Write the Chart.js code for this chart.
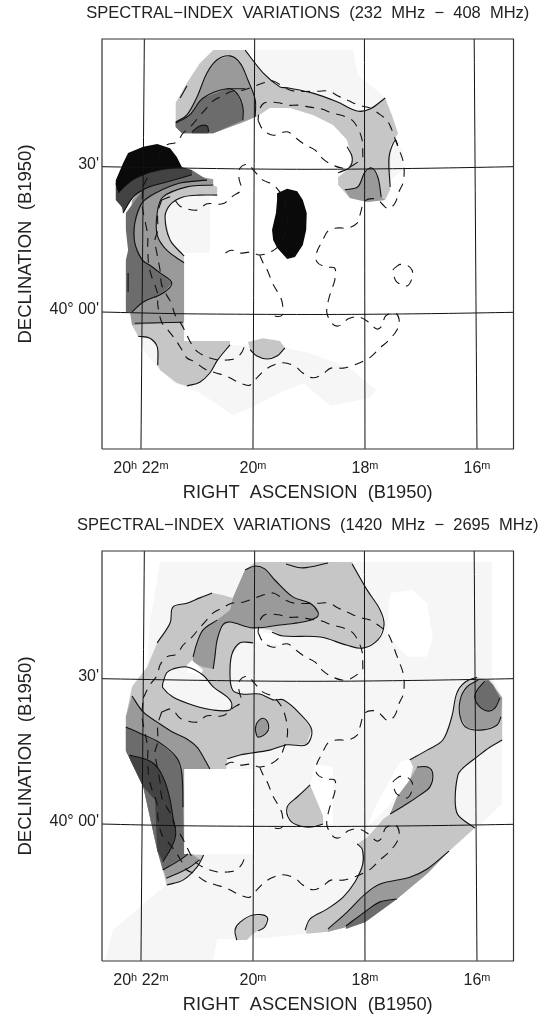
<!DOCTYPE html>
<html>
<head>
<meta charset="utf-8">
<title>Spectral-index variations</title>
<script src="https://cdn.jsdelivr.net/npm/chart.js@4/dist/chart.umd.js"></script>
<style>
  html, body { margin: 0; padding: 0; background: #fff; }
  canvas { position: absolute; left: 0; }
  #top-map { top: 0; }
  #bottom-map { top: 512px; }
</style>
</head>
<body>
<canvas id="top-map" width="541" height="505"></canvas>
<canvas id="bottom-map" width="541" height="505"></canvas>
<script>
// all arrays are flat [RA minutes past 20h, Dec arcmin from 40 deg, ...]
const raTicks = [22, 20, 18, 16];
const raTickLabels = ["20ʰ 22ᵐ", "20ᵐ", "18ᵐ", "16ᵐ"];
const decTicks = [0, 30];
const decTickLabels = ["40° 00'", "30'"];

const topTitle = "SPECTRAL−INDEX  VARIATIONS  (232  MHz  −  408  MHz)";
const bottomTitle = "SPECTRAL−INDEX  VARIATIONS  (1420  MHz  −  2695  MHz)";

// projected coordinate grid
const gridRa = [
  [21.94,56.9, 22,-27.9],
  [19.97,56.9, 20,-27.9],
  [18.01,56.9, 18,-27.9],
  [16.05,56.9, 16,-27.9]
];
const gridDec = [
  [22.70,30.48, 21.30,30.2, 20,30, 18.98,29.94, 18,30, 16.66,30.2, 15.35,30.48],
  [22.70,0.41, 21.30,0.06, 20,-0.06, 18.98,-0.1, 18,-0.06, 16.66,0.1, 15.35,0.35]
];

// dashed total-intensity contours, same in both maps
const dashOuter = [21.96,26.5, 21.84,29.2, 21.71,31.2, 21.66,33.3, 21.54,35.0, 21.36,35.6, 21.25,37.4, 21.09,39.1, 20.98,40.6, 20.86,42.2, 20.71,44.1, 20.55,45.1, 20.38,46.1, 20.18,46.3, 19.96,47.2, 19.82,47.8, 19.64,48.2, 19.43,46.8, 19.25,46.1, 18.84,46.1, 18.64,46.1, 18.48,45.1, 18.29,44.1, 18.11,43.2, 17.91,42.6, 17.77,41.6, 17.61,40.1, 17.52,38.1, 17.45,35.8, 17.38,33.7, 17.32,31.7, 17.30,29.6, 17.32,27.1, 17.39,25.4, 17.46,23.0, 17.55,21.9, 17.61,21.9, 17.68,22.6, 17.80,23.8, 18.00,23.4, 18.09,20.5, 18.14,18.8, 18.30,17.8, 18.50,17.8, 18.66,17.2, 18.77,14.9, 18.86,12.8, 18.86,10.8, 18.70,9.7, 18.54,9.5, 18.54,7.0, 18.61,4.6, 18.66,2.5, 18.68,0.2, 18.59,-1.9, 18.50,-2.5, 18.41,-2.1, 18.30,-1, 18.11,-0.6, 17.93,-1.7, 17.79,-3.1, 17.70,-2.5, 17.63,-0.4, 17.46,0.2, 17.39,-1.2, 17.43,-3.3, 17.59,-5.6, 17.73,-7, 17.88,-8.7, 18.02,-9.7, 18.21,-10.6, 18.39,-11.2, 18.61,-11.2, 18.75,-12.4, 18.93,-13.2, 19.11,-12.2, 19.25,-10.8, 19.46,-10.1, 19.64,-10.6, 19.79,-11.6, 19.93,-13.2, 20.05,-14.7, 20.13,-14.7, 20.30,-13.9, 20.48,-12.8, 20.66,-12.2, 20.86,-11.4, 21.04,-9.9, 21.18,-9.1, 21.29,-7, 21.38,-5.4, 21.52,-3.3, 21.63,-1.7, 21.70,1.9, 21.70,3.9, 21.75,6, 21.80,7.4, 21.86,10.1, 21.88,13.7, 21.88,16.3, 21.93,19.4, 21.98,22.6, 21.96,26.5];
const dashInner = [21.63,23.6, 21.45,24.2, 21.30,22.3, 21.00,21.5, 20.82,22.8, 20.54,22.8, 20.36,24.4, 20.21,25.7, 20.25,28.1, 20.23,30.2, 20.09,31.0, 19.98,29.6, 19.82,27.7, 19.66,26.9, 19.55,25.7, 19.46,24.0, 19.39,20.9, 19.39,18.4, 19.45,16.1, 19.52,14.3, 19.66,13.0, 19.88,12.2, 20.04,12.8, 20.23,12.6, 20.39,13.2, 20.55,12.2];
const dashBranch = [19.88,12.2, 19.82,10.6, 19.73,8.7, 19.66,6.6, 19.55,4.3, 19.48,2.5, 19.48,-0.2, 19.61,-0.4, 19.70,0.4];
const dashLeft = [21.63,23.6, 21.70,20.9, 21.70,17.4, 21.75,15.3, 21.71,12.2, 21.66,9.1, 21.63,6, 21.54,3.9, 21.46,2.3, 21.39,-0.2, 21.27,-2.3, 21.09,-6.4, 20.98,-7.9, 20.82,-8.9, 20.63,-9.5, 20.45,-9.5, 20.34,-9.3, 20.21,-8.1, 20.13,-6];
const dashRing = [19.91,40.1, 19.82,38.1, 19.64,37, 19.39,37.7, 19.21,36.2, 19.07,35, 18.89,33.9, 18.75,32.1, 18.61,31, 18.41,30.2, 18.27,30.4, 18.05,32.3, 18.04,33.5, 18.05,36, 18.13,38.5, 18.23,40.1, 18.39,41, 18.59,41.6, 18.77,42.4, 18.98,42.8, 19.18,43.2, 19.38,43.2, 19.55,43.7, 19.79,43.7, 19.88,42.4, 19.91,40.1];
const dashCircle = [17.38,10.3, 17.50,9.1, 17.48,7.7, 17.43,6.6, 17.25,5.8, 17.16,7.4, 17.16,9.1, 17.25,10.1, 17.38,10.3];

// 232-408 MHz grey levels
const topFaintUpper = [19.98,54.6, 18.21,54.6, 18.13,49.4, 17.88,47.2, 17.64,44.7, 17.55,36.0, 17.32,33.9, 17.32,29.8, 17.55,27.7, 17.64,33.9, 18.09,42.2, 19.16,45.9, 19.98,48.4];
const topFaintLower = [22.05,-2.3, 21.96,-7.4, 21.71,-11, 21.43,-14.1, 20.95,-16.3, 20.36,-20.9, 20,-19.2, 19.52,-16.3, 19.11,-14.3, 18.62,-19, 17.91,-17.4, 17.80,-15.7, 18.27,-11.2, 18.98,-8.1, 19.43,-7, 20.41,-6.4, 21.84,-5];
const topFaintInner = [21.45,24.6, 20.77,24.6, 20.77,12.6, 21.23,12.6, 21.45,14.3, 21.66,19.4];
const topLightUpper = [21.38,43.7, 21.18,47.8, 20.95,51.9, 20.71,54.6, 20.14,54.6, 19.82,49.9, 19.52,47.0, 19.39,46.8, 18.93,45.7, 18.50,43.9, 18.14,42.0, 17.91,42.4, 17.64,44.7, 17.52,41.2, 17.41,37.4, 17.55,34.6, 17.55,25.7, 17.64,23.6, 17.96,23.2, 18.27,24.0, 18.48,26.7, 18.48,28.3, 18.32,29.8, 18.23,31.9, 18.32,36.0, 18.57,39.1, 18.93,41.2, 19.34,42.6, 19.70,42.6, 19.93,40.8, 20.18,39.7, 20.71,37.4, 21.27,37.4, 21.38,38.7];
const topMidUpper = [21.38,39.7, 21.18,41.2, 21.00,44.9, 20.82,49.9, 20.64,52.6, 20.41,53.4, 20.23,51.9, 20.09,48.4, 19.96,44.3, 19.96,40.8, 20.18,39.7, 20.71,37.4, 21.27,37.4, 21.38,38.7];
const topDarkUpper = [21.38,39.5, 21.13,41.2, 20.89,44.7, 20.46,46.6, 20.29,45.7, 20.18,42.8, 20.18,40.1, 20.71,37.4, 21.27,37.4, 21.38,38.7];
const topDarkerUpper = [21.09,37.4, 21.09,37.7, 20.95,38.9, 20.82,38.9, 20.79,37.7, 20.80,37.4];
const topHump = [18.36,25.7, 18.13,26.3, 18.00,29.4, 17.88,30.2, 17.77,28.3, 17.71,24.2, 17.64,23.6, 17.96,23.2, 18.27,24.0];
const topLightLobe = [20.09,-5.8, 19.82,-5, 19.52,-5.6, 19.43,-7, 19.57,-8.7, 19.70,-9.1, 19.75,-9.3, 19.93,-8.7, 20.05,-7.4];
const topLightBand = [20.71,26.7, 20.64,26.3, 20.64,24.6, 20.95,24.6, 21.25,24.2, 21.48,22.6, 21.57,20.1, 21.48,15.3, 21.23,12.0, 21.23,10.6, 21.54,13.2, 21.71,16.3, 21.71,20.9, 21.61,24.2, 21.18,26.3];
const topLightLower = [22.16,-2.3, 21.23,-1.7, 21.23,-5.6, 20.41,-5.6, 20.41,-6.4, 20.63,-9.5, 20.77,-12.2, 20.95,-14.1, 21.18,-14.9, 21.36,-14.3, 21.66,-11.6, 21.70,-10.6, 21.71,-6.8, 21.84,-5, 22.05,-4.6];
const topMidLeft = [21.09,29.4, 20.89,28.3, 20.71,27.9, 20.71,26.7, 21.18,26.3, 21.61,24.2, 21.71,20.9, 21.71,16.3, 21.54,13.2, 21.23,10.6, 21.23,-1.7, 22.16,-2.3, 22.23,2.9, 22.23,13.2, 22.16,23.6, 21.84,27.7];
const topDarkLeft = [21.09,29.8, 20.89,28.3, 20.82,27.7, 21.30,27.1, 21.71,25.2, 21.98,23.0, 22.11,18.8, 22.11,14.7, 21.98,11.2, 21.84,10.1, 21.66,8.5, 21.45,6.4, 21.61,4.3, 21.96,2.5, 22.16,0.4, 22.27,0.4, 22.27,11.2, 22.23,13.2, 22.27,17.4, 22.27,20.9, 21.84,27.7];
const topDarkerLeft = [22.45,27.3, 22.45,23.6, 22.34,22.1, 22.32,20.9, 22.14,24.2, 21.89,26.1, 21.54,27.3, 21.09,28.8, 21.09,29.8, 21.27,30.4, 21.66,29.8, 21.96,28.8, 22.20,27.3, 22.41,25.0];
const topBlackLeft = [22.45,27.7, 22.32,31.2, 22.23,33.3, 21.96,34.6, 21.71,35.2, 21.48,34.3, 21.36,32.5, 21.27,30.4, 21.66,29.8, 21.96,28.8, 22.20,27.3, 22.41,25.0, 22.45,26.7];
const topBlackOval = [19.57,25.0, 19.39,25.9, 19.21,25.4, 19.11,23.6, 19.04,20.9, 19.05,17.4, 19.11,14.3, 19.25,11.8, 19.39,11.4, 19.57,13.7, 19.64,15.3, 19.66,17.4, 19.59,20.9, 19.57,23.6];

const topContours = [
  topLightUpper.slice(8, 26),
  topMidUpper.slice(0, 20),
  topDarkUpper.slice(0, 14),
  [20.46,46.6, 20.14,46.6],
  topDarkerUpper.slice(2, 10),
  topBlackLeft.slice(14, 24),
  [21.09,28.8, 21.54,27.3, 21.89,26.1, 22.14,24.2, 22.32,20.9],
  topDarkLeft.slice(4, 30),
  topMidLeft.slice(6, 20),
  topLightBand.slice(4, 18),
  [22.11,-1.9, 21.25,-1.7],
  [22.05,-4.6, 21.84,-5, 21.71,-6.8, 21.70,-10.6],
  topLightLower.slice(8, 18),
  [20.05,-7.4, 19.93,-8.7, 19.75,-9.3, 19.57,-8.7, 19.43,-7],
  [17.55,26.3, 17.57,32.5, 17.46,36, 17.41,34.8],
  [18.32,34.6, 18.23,32.5, 18.27,30.4, 18.48,29.2],
  topHump.slice(0, 12),
  [21.30,44.7, 21.18,47.2],
  [22.23,8.5, 22.23,4.6]
];

// 1420-2695 MHz grey levels
const botFaint = [21.66,54.6, 15.73,54.6, 15.73,30.8, 15.55,26.7, 15.55,4.6, 15.89,0.8, 16.05,-0.6, 19.04,-22.3, 20,-23.4, 20.64,-23.4, 20.71,-27.7, 22.64,-27.7, 22.50,-21.5, 22.02,-16.8, 21.55,-12.2, 21.71,-5, 21.96,8.1, 22.21,14.1, 22.27,22.6, 22.16,28.8, 21.89,32.9, 21.84,42.2];
const botHoleRight = [17.55,48.2, 17.14,48.8, 16.89,46.1, 16.79,39.1, 16.89,35, 17.25,35, 17.61,39.7];
const botHoleCentre = [21.23,11.8, 20,11.8, 20,-5.8, 21.23,-5.8];
const botHoleLobe = [18.89,12.8, 18.57,12.2, 18.57,0.4, 18.71,0.4, 18.98,8.1];
const botHoleDiag = [17.96,-0.2, 17.68,2.9, 17.43,6, 17.20,9.5, 17.11,14.3, 17.38,13.2, 17.82,3.9];
const botHoleNotch = [19.96,40.6, 19.48,39.1, 19.48,37.4, 19.93,38];
const botLight = [21.71,37.9, 21.48,42.0, 21.43,45.3, 21.18,46.1, 20.95,47.2, 20.73,48.2, 20.54,47.8, 20.36,47.2, 20.14,53.0, 19.96,54.6, 18.23,54.6, 17.96,48.8, 17.73,44.7, 17.66,41.6, 17.77,38.5, 18.04,36.8, 18.32,37.4, 18.80,39.1, 19.46,39.3, 19.70,40.6, 20,41, 20,37.9, 20.23,37.9, 20.38,35.4, 20.41,30.8, 20.36,28.1, 20.20,27.3, 19.88,27.3, 19.64,26.1, 19.46,26.1, 19.16,23.2, 18.95,19.9, 19.05,16.8, 19.39,16.8, 19.70,15.7, 20.23,14.7, 20.46,13.9, 20.48,11.8, 21.23,11.8, 21.23,-5.8, 20.88,-6, 21.00,-8.5, 21.25,-11.2, 21.54,-12.2, 21.71,-5, 21.96,8.1, 22.21,14.1, 22.27,15.5, 22.27,22.6, 22.16,28.8, 21.89,32.9];
const botIsland = [21.61,29.6, 21.54,31.7, 21.43,32.5, 21.18,32.9, 20.89,31.2, 20.71,28.8, 20.46,26.7, 20.38,25.4, 20.41,24, 20.71,24, 21.07,25, 21.43,26.7, 21.61,28.6];
const botIslandNotch = [21.09,34.3, 20.89,32.3, 20.95,31.2, 21.16,31.7, 21.18,33.3];
const botMidUpper = [21.07,35, 21.00,37.9, 20.89,40.6, 20.64,42.6, 20.41,44.7, 20.36,47.2, 20.14,53, 19.96,53.8, 19.79,53.2, 19.61,50.9, 19.29,47.4, 18.98,46.1, 18.84,44.3, 18.86,43.2, 19.11,42.2, 19.52,41.6, 20,41, 20.41,42.2, 20.54,41.6, 20.64,38.5, 20.68,35, 20.71,32.5, 20.89,32.9, 21.07,33.9];
const botOval = [19.96,19.9, 19.93,21.3, 19.82,22.3, 19.73,21.3, 19.75,19.4, 19.91,18.4];
const botMidLeft = [22.27,22.6, 22.16,26.9, 21.96,23.6, 21.66,21.1, 21.43,19.4, 21.18,18, 21,16.3, 20.86,13.7, 20.77,11.8, 21.23,11.8, 21.23,-5.8, 21.09,-5.8, 20.95,-7, 21.18,-8.9, 21.55,-10.8, 21.71,-5, 21.96,8.1, 22.21,14.1, 22.27,15.5];
const botDarkLeft = [22.27,20.5, 22.02,19.2, 21.66,17.2, 21.36,14.1, 21.27,10.8, 21.25,3.9, 21.23,-5.8, 21.16,-5.8, 21.30,-7, 21.61,-9.1, 21.71,-5, 21.96,8.1, 22.21,14.1, 22.27,15.5];
const botDarkerLeft = [22.21,14.7, 21.89,13.7, 21.71,12.2, 21.57,9.1, 21.48,5.4, 21.43,1.9, 21.38,-1.7, 21.45,-4.3, 21.61,-7.4, 21.71,-5, 21.75,5.4, 21.96,8.1, 22.21,14.1];
const botLightBand = [19.07,-21.5, 18.98,-19.2, 18.68,-17.2, 18.39,-14.7, 18.18,-11.6, 18.04,-7.9, 18.05,-4.8, 18.14,-3.7, 17.96,-2.3, 17.79,-0.2, 17.68,1.4, 17.55,2.5, 17.43,6, 17.20,9.5, 17.14,12.2, 17.20,13.7, 16.89,15.7, 16.61,17.8, 16.45,22.6, 16.36,27.5, 16.21,29.8, 16,30.8, 15.77,30.2, 15.55,26.7, 15.55,17.8, 15.77,16.3, 16,14.3, 16.25,12, 16.34,10.6, 16.39,5.4, 16.34,2.3, 16.04,-0.4, 16.48,-5, 16.89,-9.9, 17.43,-15.1, 18,-19.9, 18.66,-21.9, 19.04,-22.3];
const botMidDiag = [17.55,2.5, 17.25,4.6, 17.02,6.4, 16.84,8.1, 16.79,10.8, 16.88,12.2, 17.07,12.2, 17.20,9.5, 17.43,6];
const botMidBand = [18.66,-21.3, 18.32,-17.8, 18,-14.1, 17.73,-12, 17.20,-10.6, 16.89,-8.9, 16.50,-5.2, 16.89,-9.9, 17.43,-15.1, 18,-19.9, 18.66,-21.9];
const botDarkBand = [18.34,-20.7, 17.96,-17.4, 17.73,-15.7, 17.43,-15.1, 18,-19.9, 18.34,-21.3];
const botMidLobe = [15.98,30.2, 16.18,28.8, 16.30,26.1, 16.30,22.6, 16.18,20.3, 15.89,19.9, 15.64,20.9, 15.57,22.6, 15.55,26.5, 15.80,30.2];
const botDarkLobe = [16,28.1, 15.86,30, 15.80,30.2, 15.71,29.2, 15.59,26.5, 15.68,24.4, 15.82,23.8, 15.98,25, 16.04,26.7];
const botLobeMiddle = [19.39,3.9, 19.21,6, 18.98,8.5, 18.89,6, 18.75,2.1, 18.75,0.4, 18.95,-0.2, 19.16,0, 19.34,1.2];
const botLobeLow = [20.32,-21.5, 20.23,-19.9, 20,-18.4, 19.75,-18.8, 19.79,-20.9, 20,-22.3, 20.11,-23.6, 20.29,-23.6];

const closed = (arr) => [...arr, arr[0], arr[1]];

const botContours = [
  botLight.slice(0, 12),
  [19.41,54.2, 19.11,53.4, 18.66,54.4],
  [18.23,54.2, 17.96,48.8, 17.73,44.7, 17.66,41.6, 17.77,38.5, 18.04,36.8, 18.32,37.4, 18.80,39.1, 19.46,39.3, 19.66,40.1],
  botMidUpper.slice(12, 44),
  botMidUpper.slice(0, 8),
  botLight.slice(42, 74),
  closed(botIsland),
  closed(botOval),
  botMidLeft.slice(2, 18),
  botDarkLeft.slice(0, 12),
  botDarkerLeft.slice(0, 18),
  [21.61,-9.1, 21.30,-7, 21.16,-5.8],
  [21.55,-10.8, 21.18,-8.9, 20.95,-7],
  [21.54,-12.2, 21.25,-11.2, 21.00,-8.5, 20.88,-6],
  botLightBand.slice(0, 16),
  botMidBand.slice(0, 14),
  botDarkBand.slice(0, 8),
  botMidDiag.slice(0, 14),
  botLightBand.slice(30, 44),
  botLightBand.slice(48, 64),
  botMidLobe.slice(0, 16),
  [15.86,30, 16,28.1, 16.04,26.7, 15.98,25, 15.82,23.8, 15.68,24.4, 15.59,26.5],
  [18.98,8.5, 19.21,6, 19.39,3.9, 19.34,1.2, 19.16,0, 18.95,-0.2, 18.75,0.4],
  [20.29,-23.6, 20.32,-21.5, 20.23,-19.9, 20,-18.4, 19.75,-18.8, 19.79,-20.9, 19.91,-21.7]
];

const RA_LEFT = 22.696, RA_RIGHT = 15.348;
const DEC_BOTTOM = -27.93, DEC_TOP = 56.9;

const WHITE = "#ffffff", FAINT = "#f6f6f6", LIGHT = "#c6c6c6", MID = "#9a9a9a",
  DARK = "#6c6c6c", DARKER = "#434343", BLACK = "#0a0a0a";

const topAreas = [
  [topFaintUpper, FAINT], [topFaintLower, FAINT], [topFaintInner, FAINT],
  [topLightUpper, LIGHT], [topLightLobe, LIGHT], [topLightBand, LIGHT], [topLightLower, LIGHT],
  [topMidUpper, MID], [topHump, MID], [topMidLeft, MID],
  [topDarkUpper, DARK], [topDarkLeft, DARK],
  [topDarkerUpper, DARKER], [topDarkerLeft, DARKER],
  [topBlackLeft, BLACK], [topBlackOval, BLACK]
];

const bottomAreas = [
  [botFaint, FAINT],
  [botHoleRight, WHITE], [botHoleCentre, WHITE], [botHoleLobe, WHITE], [botHoleDiag, WHITE], [botHoleNotch, WHITE],
  [botLight, LIGHT], [botLightBand, LIGHT], [botLobeMiddle, LIGHT], [botLobeLow, LIGHT],
  [botIsland, FAINT],
  [botMidUpper, MID], [botOval, MID], [botMidLeft, MID], [botMidDiag, MID], [botMidBand, MID], [botMidLobe, MID],
  [botIslandNotch, WHITE],
  [botDarkLeft, DARK], [botDarkBand, DARK], [botDarkLobe, DARK],
  [botDarkerLeft, DARKER]
];

const toPoints = (flat) => {
  const pts = [];
  for (let i = 0; i < flat.length; i += 2) pts.push({ x: flat[i], y: flat[i + 1] });
  return pts;
};

const areaSet = ([flat, color]) => ({
  data: toPoints(flat), showLine: true, fill: "shape",
  backgroundColor: color, borderWidth: 0, pointRadius: 0
});
const lineSet = (flat, extra) => ({
  data: toPoints(flat), showLine: true, fill: false, borderColor: "#111",
  borderWidth: 1.1, pointRadius: 0, tension: 0.35, ...extra
});

const textFont = (size) => ({ family: "Liberation Sans", size, weight: "normal" });

// the built-in title squeezes text to the plot width, these run past it
const mapTitlePlugin = {
  id: "mapTitle",
  afterDraw(chart, args, opts) {
    const { ctx, chartArea } = chart;
    ctx.save();
    ctx.font = "16.5px 'Liberation Sans'";
    ctx.fillStyle = "#222";
    ctx.textAlign = "center";
    ctx.textBaseline = "middle";
    ctx.fillText(opts.text, (chartArea.left + chartArea.right) / 2, 13);
    ctx.restore();
  }
};

function drawMap(id, title, areas, contours) {
  const sets = [];
  areas.forEach(a => sets.push(areaSet(a)));
  contours.forEach(c => sets.push(lineSet(c)));
  [dashOuter, dashInner, dashBranch, dashLeft, dashRing, dashCircle].forEach(d => {
    sets.push(lineSet(d, { borderDash: [9, 7] }));
  });
  [...gridRa, ...gridDec].forEach(g => sets.push(lineSet(g, { tension: 0.3, borderWidth: 1 })));
  sets.push(lineSet([RA_LEFT,DEC_BOTTOM, RA_LEFT,DEC_TOP, RA_RIGHT,DEC_TOP, RA_RIGHT,DEC_BOTTOM, RA_LEFT,DEC_BOTTOM],
    { tension: 0, borderWidth: 1.2, borderColor: "#333", clip: false }));

  new Chart(document.getElementById(id), {
    type: "scatter",
    // first dataset ends up on top, so flip the painter order
    data: { datasets: sets.reverse() },
    plugins: [mapTitlePlugin],
    options: {
      responsive: false,
      animation: false,
      layout: { autoPadding: false, padding: { top: 39, right: 27.5 } },
      plugins: {
        legend: { display: false },
        tooltip: { enabled: false },
        mapTitle: { text: title }
      },
      scales: {
        x: {
          type: "linear", reverse: true, min: RA_RIGHT, max: RA_LEFT,
          grid: { display: false, drawTicks: false }, border: { display: false },
          afterBuildTicks: (axis) => { axis.ticks = raTicks.map(value => ({ value })); },
          afterFit: (axis) => { axis.height = 56; },
          ticks: {
            color: "#222", padding: 10, autoSkip: false, maxRotation: 0,
            font: textFont(16),
            callback: (v, i) => raTickLabels[i]
          },
          title: {
            display: true, text: "RIGHT  ASCENSION  (B1950)", color: "#222",
            font: textFont(18.3), padding: { top: 0, bottom: 1 }
          }
        },
        y: {
          type: "linear", min: DEC_BOTTOM, max: DEC_TOP,
          grid: { display: false, drawTicks: false }, border: { display: false },
          afterBuildTicks: (axis) => { axis.ticks = decTicks.map(value => ({ value })); },
          afterFit: (axis) => { axis.width = 102; },
          ticks: {
            color: "#222", padding: 3, autoSkip: false, labelOffset: -4,
            font: textFont(16),
            callback: (v, i) => decTickLabels[i]
          },
          title: {
            display: true, text: "DECLINATION  (B1950)", color: "#222",
            font: textFont(18.5), padding: { top: 15, bottom: 0 }
          }
        }
      }
    }
  });
}

drawMap("top-map", topTitle, topAreas, topContours);
drawMap("bottom-map", bottomTitle, bottomAreas, botContours);
</script>
</body>
</html>
